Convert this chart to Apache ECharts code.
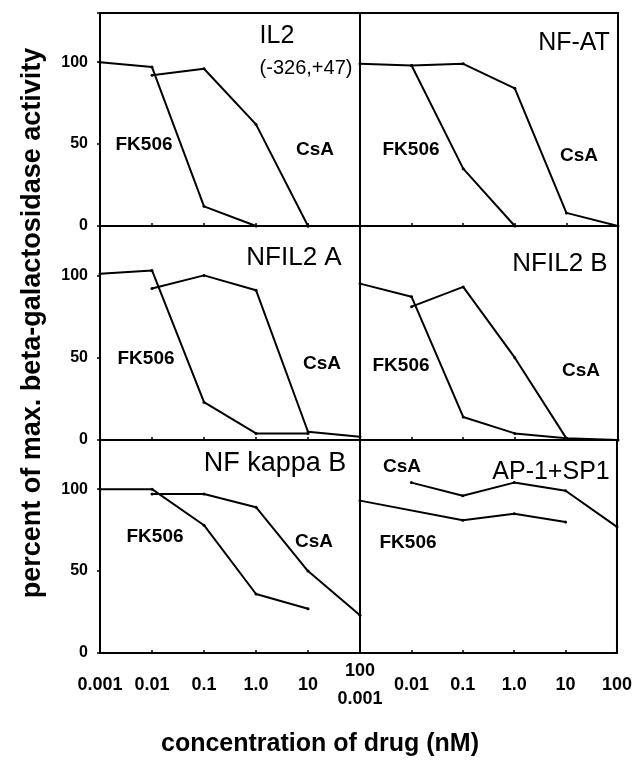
<!DOCTYPE html>
<html>
<head>
<meta charset="utf-8">
<script src="https://cdn.jsdelivr.net/npm/echarts@6/dist/echarts.min.js"></script>
<style>
  html, body { margin: 0; padding: 0; background: #fff; }
  #chart { width: 635px; height: 769px; }
</style>
</head>
<body>
<div id="chart"></div>
<script>
// concentrations of drug (nM), one per decade
var concentrations = [0.001, 0.01, 0.1, 1, 10, 100];
var xTickLabels = ['0.001', '0.01', '0.1', '1.0', '10', '100'];
var yTicks = [0, 50, 100];

var panelNames = ['IL2', 'NF-AT', 'NFIL2 A', 'NFIL2 B', 'NF kappa B', 'AP-1+SP1'];
var il2Sub = '(-326,+47)';

// percent of max activity, null = no point at that concentration
var il2Fk506    = [100, 97, 12, 0, 0, null];
var il2CsA      = [null, 92, 96, 62, 0, 0];
var nfatFk506   = [99, 98, 35, 0, null, null];
var nfatCsA     = [null, 98, 99, 84, 8, 0];
var nfil2aFk506 = [101, 103, 23, 4, 4, null];
var nfil2aCsA   = [null, 92, 100, 91, 5, 2];
var nfil2bFk506 = [95, 87, 14, 4, 1, null];
var nfil2bCsA   = [null, 81, 93, 50, 1, 0];
var nfkbFk506   = [100, 100, 78, 36, 27, null];
var nfkbCsA     = [null, 97, 97, 89, 50, 23];
var apFk506     = [93, null, 81, 85, 80, null];
var apCsA       = [null, 104, 96, 104, 99, 77];

var fkSets  = [il2Fk506, nfatFk506, nfil2aFk506, nfil2bFk506, nfkbFk506, apFk506];
var csaSets = [il2CsA, nfatCsA, nfil2aCsA, nfil2bCsA, nfkbCsA, apCsA];

var FONT = '"Liberation Sans", Arial, sans-serif';

function pairs(vals) {
  var out = [];
  for (var i = 0; i < vals.length; i++) {
    if (vals[i] !== null) out.push([concentrations[i], vals[i]]);
  }
  return out;
}
function tickIndex(v) {
  return Math.round(Math.log(v) / Math.LN10) + 3;
}

// grid boxes: 3 rows x 2 columns
var cols = [{left: 100, width: 260}, {left: 360, width: 258}];
var rows = [{top: 13, height: 213}, {top: 226, height: 214}, {top: 440, height: 213}];

var grids = [], xAxes = [], yAxes = [], series = [];
for (var p = 0; p < 6; p++) {
  var c = cols[p % 2], r = rows[Math.floor(p / 2)];
  var isLeft = p % 2 === 0, isBottom = p >= 4;
  grids.push({
    left: c.left, top: r.top, width: c.width, height: r.height,
    show: true, borderColor: '#000', borderWidth: 2, containLabel: false
  });
  xAxes.push({
    type: 'log', logBase: 10, min: 0.001, max: 100, gridIndex: p,
    splitNumber: 5,
    axisLine: {lineStyle: {color: '#000', width: 2}},
    axisTick: {show: true, inside: true, length: 3, lineStyle: {color: '#000', width: 1.5}},
    splitLine: {show: false},
    axisLabel: {
      show: isBottom,
      margin: 32,
      verticalAlign: 'middle',
      lineHeight: 28,
      fontFamily: FONT, fontSize: 18, fontWeight: 'bold', color: '#000',
      formatter: (function (left) {
        return function (v) {
          var i = tickIndex(v);
          if (left && i === 5) return '100\n0.001';
          if (!left && i === 0) return '';
          return xTickLabels[i];
        };
      })(isLeft)
    }
  });
  yAxes.push({
    type: 'value', min: 0, max: 130, interval: 50, gridIndex: p,
    axisLine: {lineStyle: {color: '#000', width: 2}},
    axisTick: {show: isLeft, length: 3, lineStyle: {color: '#000', width: 1.5}},
    splitLine: {show: false},
    axisLabel: {
      show: isLeft, margin: 12,
      fontFamily: FONT, fontSize: 16, fontWeight: 'bold', color: '#000',
      formatter: function (v) { return yTicks.indexOf(v) >= 0 ? String(v) : ''; }
    }
  });
  [fkSets[p], csaSets[p]].forEach(function (vals, k) {
    series.push({
      name: k === 0 ? 'FK506' : 'CsA',
      type: 'line', xAxisIndex: p, yAxisIndex: p,
      data: pairs(vals),
      symbol: 'circle', symbolSize: 3, showSymbol: true,
      lineStyle: {color: '#000', width: 2},
      itemStyle: {color: '#000'},
      clip: false, silent: true
    });
  });
}

function txt(x, y, s, size, weight, extra) {
  var o = {
    type: 'text', x: x, y: y, silent: true,
    style: {text: s, fill: '#000', font: (weight || 'normal') + ' ' + size + 'px ' + FONT,
            textAlign: 'center', textVerticalAlign: 'middle'}
  };
  if (extra) for (var k in extra) o[k] = extra[k];
  return o;
}

var graphics = [
  txt(277, 36, panelNames[0], 25),
  txt(306, 68, il2Sub, 20),
  txt(574, 43, panelNames[1], 25),
  txt(294, 258, panelNames[2], 26),
  txt(560, 264, panelNames[3], 26),
  txt(275, 464, panelNames[4], 27),
  txt(551, 472, panelNames[5], 25),
  // series labels
  txt(144, 145, 'FK506', 19, 'bold'), txt(315, 150, 'CsA', 19, 'bold'),
  txt(411, 150, 'FK506', 19, 'bold'), txt(579, 156, 'CsA', 19, 'bold'),
  txt(146, 359, 'FK506', 19, 'bold'), txt(322, 364, 'CsA', 19, 'bold'),
  txt(401, 366, 'FK506', 19, 'bold'), txt(581, 371, 'CsA', 19, 'bold'),
  txt(155, 537, 'FK506', 19, 'bold'), txt(314, 542, 'CsA', 19, 'bold'),
  txt(408, 543, 'FK506', 19, 'bold'), txt(402, 467, 'CsA', 19, 'bold'),
  // axis titles
  txt(320, 744, 'concentration of drug (nM)', 25, 'bold'),
  txt(33, 323, 'percent of max. beta-galactosidase activity', 27, 'bold', {rotation: Math.PI / 2})
];

var chart = echarts.init(document.getElementById('chart'), null, {renderer: 'canvas'});
chart.setOption({
  animation: false,
  backgroundColor: '#fff',
  grid: grids,
  xAxis: xAxes,
  yAxis: yAxes,
  series: series,
  graphic: graphics
});
</script>
</body>
</html>
